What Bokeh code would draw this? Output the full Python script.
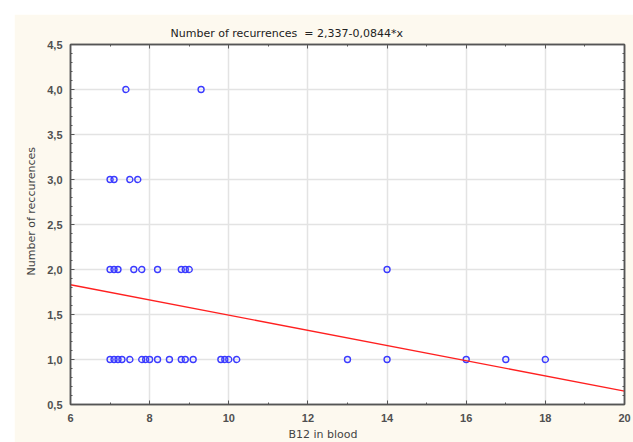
from bokeh.plotting import figure
from bokeh.models import (LinearAxis, FixedTicker, CustomJSTickFormatter, Title,
                          Range1d, ColumnDataSource, Grid, Spacer)
from bokeh.layouts import column, row
from bokeh.embed import file_html
from bokeh.resources import INLINE

# ---- data ----
b12_x = [7.4, 9.3,
         7.0, 7.1, 7.5, 7.7,
         7.0, 7.1, 7.2, 7.6, 7.8, 8.2, 8.8, 8.9, 9.0, 14.0,
         7.0, 7.1, 7.2, 7.3, 7.5, 7.8, 7.9, 8.0, 8.2, 8.5, 8.8, 8.9, 9.1,
         9.8, 9.9, 10.0, 10.2, 13.0, 14.0, 16.0, 17.0, 18.0]
recur_y = [4, 4,
           3, 3, 3, 3,
           2, 2, 2, 2, 2, 2, 2, 2, 2, 2,
           1, 1, 1, 1, 1, 1, 1, 1, 1, 1, 1, 1, 1,
           1, 1, 1, 1, 1, 1, 1, 1, 1]
intercept = 2.337
slope = -0.0844
x_range = [6, 20]
y_range = [0.5, 4.5]
x_ticks = [6, 8, 10, 12, 14, 16, 18, 20]
x_minor = [7, 9, 11, 13, 15, 17, 19]
y_ticks = [0.5, 1.0, 1.5, 2.0, 2.5, 3.0, 3.5, 4.0, 4.5]
y_minor = [round(0.5 + 0.1 * i, 1) for i in range(41)]
title_text = "Number of recurrences\u00a0\u00a0= 2,337-0,0844*x"
x_label = "B12 in blood"
y_label = "Number of reccurences"

fit_x = x_range
fit_y = [intercept + slope * v for v in fit_x]

BG = "#fdf9ef"
FONT = "Liberation Sans"
TFONT = "DejaVu Sans"
LBL = "#505050"

p = figure(frame_width=554, frame_height=360, output_backend="svg", toolbar_location=None,
           x_range=Range1d(*x_range), y_range=Range1d(*y_range),
           min_border_left=56, min_border_right=9, min_border_top=30, min_border_bottom=38,
           x_axis_location=None, y_axis_location=None)
p.border_fill_color = BG
p.background_fill_color = "white"
p.outline_line_color = "#555555"
p.outline_line_width = 1.5

fmt_y = CustomJSTickFormatter(code="return tick.toFixed(1).replace('.', ',');")
fmt_x = CustomJSTickFormatter(code="return tick.toFixed(0);")
fmt_none = CustomJSTickFormatter(code="return '';")

def style(ax):
    ax.axis_line_color = "#555555"
    ax.axis_line_width = 1.5
    ax.major_tick_in = 4
    ax.major_tick_out = 0
    ax.minor_tick_in = 2
    ax.minor_tick_out = 0
    ax.major_tick_line_color = "#555555"
    ax.minor_tick_line_color = "#555555"
    ax.major_label_text_font = FONT
    ax.major_label_text_font_size = "11px"
    ax.major_label_text_font_style = "bold"
    ax.major_label_text_color = LBL

xb = LinearAxis(ticker=FixedTicker(ticks=x_ticks, minor_ticks=x_minor), formatter=fmt_x)
style(xb)
xb.major_label_standoff = 9
p.add_layout(xb, "below")
xt = LinearAxis(ticker=FixedTicker(ticks=x_ticks, minor_ticks=x_minor), formatter=fmt_none)
style(xt)
xt.major_label_standoff = 5
p.add_layout(xt, "above")
yl = LinearAxis(ticker=FixedTicker(ticks=y_ticks, minor_ticks=y_minor), formatter=fmt_y)
style(yl)
yl.major_label_standoff = 8
p.add_layout(yl, "left")
yr = LinearAxis(ticker=FixedTicker(ticks=y_ticks, minor_ticks=y_minor), formatter=fmt_none)
style(yr)
yr.major_label_standoff = 0
p.add_layout(yr, "right")

p.xgrid.visible = False
p.ygrid.visible = False
p.add_layout(Grid(dimension=0, ticker=FixedTicker(ticks=x_ticks), grid_line_color="#e3e3e3", grid_line_width=1.5))
p.add_layout(Grid(dimension=1, ticker=FixedTicker(ticks=y_ticks), grid_line_color="#e3e3e3", grid_line_width=1.5))

src = ColumnDataSource(dict(x=b12_x, y=recur_y))
p.scatter("x", "y", source=src, size=6, marker="circle", fill_color=None,
          line_color="#3b3bff", line_width=1.4)
p.line(fit_x, fit_y, line_color="#ff2020", line_width=1.3)

t = Title(text=title_text, align="left", offset=100, text_font=TFONT,
          text_font_size="11px", text_font_style="normal", text_color="#222222")
p.add_layout(t, "above")
xlab = Title(text=x_label, align="left", offset=218, text_font=TFONT,
             text_font_size="11px", text_font_style="normal", text_color="#444444", standoff=2)
p.add_layout(xlab, "below")
ylab = Title(text=y_label, align="left", offset=129, text_font=TFONT,
             text_font_size="11px", text_font_style="normal", text_color="#444444", standoff=14)
p.add_layout(ylab, "left")

layout = column(Spacer(height=14, width=14), row(Spacer(width=14, height=14), p))
open("out.html", "w").write(file_html(layout, INLINE))
